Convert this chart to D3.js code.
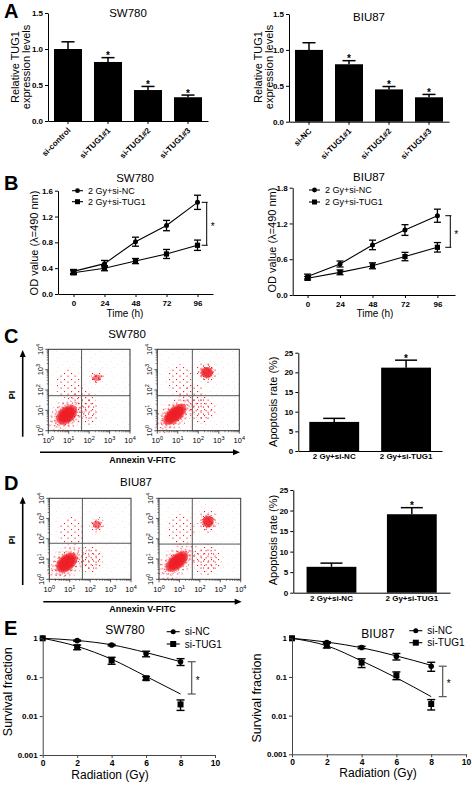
<!DOCTYPE html>
<html><head><meta charset="utf-8">
<script src="https://cdn.jsdelivr.net/npm/d3@7"></script>
<style>body{margin:0;background:#fff}svg{display:block}</style>
</head><body><svg id="c" width="472" height="786"></svg>
<script>
// ---------------- DATA ----------------
const aCatsSW = ["si-control","si-TUG1#1","si-TUG1#2","si-TUG1#3"];
const aValsSW = [1.0,0.82,0.43,0.33];
const aErrSW  = [0.10,0.06,0.05,0.03];
const aCatsBIU = ["si-NC","si-TUG1#1","si-TUG1#2","si-TUG1#3"];
const aValsBIU = [1.0,0.80,0.45,0.34];
const aErrBIU  = [0.10,0.05,0.04,0.04];
const aTicks = [0,0.5,1.0,1.5];

const bTime = [0,24,48,72,96];
const bSW_NC = [0.35,0.47,0.81,1.06,1.42];
const bSW_NCerr = [0.03,0.05,0.07,0.08,0.11];
const bSW_TUG = [0.33,0.40,0.51,0.62,0.755];
const bSW_TUGerr = [0.03,0.04,0.04,0.07,0.08];
const bBIU_NC = [0.31,0.52,0.84,1.09,1.33];
const bBIU_NCerr = [0.04,0.05,0.08,0.09,0.11];
const bBIU_TUG = [0.28,0.38,0.49,0.645,0.80];
const bBIU_TUGerr = [0.03,0.04,0.05,0.07,0.08];
const bTicksSW = [0,0.4,0.8,1.2,1.6];
const bTicksBIU = [0,0.6,1.2,1.8];
const bLegend = ["2 Gy+si-NC","2 Gy+si-TUG1"];

const cdCats = ["2 Gy+si-NC","2 Gy+si-TUG1"];
const cVals = [7.4,21.2];
const cErr = [0.9,1.9];
const dVals = [6.3,19.1];
const dErr = [0.9,1.6];
const cdTicks = [0,5,10,15,20,25];

// flow cytometry populations: [log Annexin, log PI, rx, ry, rotation, core density, halo density]
const flowSW_NC = [[0.9,0.78,0.62,0.42,-40,1,1],[2.38,2.6,0.22,0.18,0,0.6,1],[1.0,2.3,0.5,0.55,0,0,0.4],[1.95,1.0,0.4,0.55,0,0,0.6],[1.6,1.7,0.4,0.4,0,0,0.3]];
const flowSW_TUG = [[0.85,0.8,0.72,0.38,-40,1,1],[2.42,2.86,0.32,0.3,0,0.9,1],[1.1,2.5,0.5,0.6,0,0,0.4],[2.2,1.05,0.5,0.55,0,0,0.6],[1.7,1.8,0.45,0.4,0,0,0.3]];
const flowBIU_NC = [[0.85,0.82,0.64,0.42,-40,1,1],[2.33,2.7,0.22,0.22,0,0.6,1],[1.1,2.4,0.5,0.55,0,0,0.4],[2.05,1.0,0.45,0.55,0,0,0.6]];
const flowBIU_TUG = [[0.88,0.88,0.7,0.38,-40,1,1],[2.4,2.85,0.3,0.32,0,0.9,1],[1.1,2.45,0.5,0.6,0,0,0.4],[2.35,0.95,0.55,0.6,0,0,0.6]];
const flowGates = [[1.63,1.72],[1.71,1.72],[1.62,1.78],[1.63,1.74]];
const flowTicks = [0,1,2,3,4];

const eDose = [0,2,4,6,8];
const eSW_NC = [1,0.87,0.67,0.40,0.25];
const eSW_NCerr = [0,0.03,0.03,0.065,0.05];
const eSW_TUG = [1,0.59,0.27,0.094,0.02];
const eSW_TUGerr = [0,0.08,0.055,0.01,0.006];
const eSW_NCfit = [1,0.88,0.68,0.43,0.25];
const eSW_TUGfit = [1,0.62,0.29,0.105,0.037];
const eBIU_NC = [1,0.78,0.58,0.34,0.19];
const eBIU_NCerr = [0,0.04,0.04,0.065,0.05];
const eBIU_TUG = [1,0.66,0.235,0.11,0.02];
const eBIU_TUGerr = [0,0.1,0.06,0.025,0.006];
const eBIU_NCfit = [1,0.80,0.57,0.35,0.20];
const eBIU_TUGfit = [1,0.64,0.26,0.095,0.031];
const eXTicks = [0,2,4,6,8,10];
const eYTicks = [1,0.1,0.01,0.001];
const eLegend = ["si-NC","si-TUG1"];

// ---------------- HELPERS ----------------
const FONT = '"Liberation Sans", Arial, Helvetica, sans-serif';
const RED = "#ee1c24";
const svg = d3.select("#c");
svg.append("rect").attr("width",472).attr("height",786).attr("fill","#fff");
const defs = svg.append("defs");

function T(x,y,s,o={}) {
  const t = svg.append("text").attr("x",x).attr("y",y).text(s)
    .attr("font-family",FONT).attr("font-size",o.size||11)
    .attr("font-weight",o.weight||"normal").attr("text-anchor",o.anchor||"middle")
    .attr("fill",o.fill||"#000");
  if (o.rot) t.attr("transform",`rotate(${o.rot},${x},${y})`);
  return t;
}
function styleAxis(g,size,color) {
  g.attr("font-family",FONT).attr("font-size",size).attr("font-weight","bold");
  g.select(".domain").attr("stroke",color||"#000").attr("stroke-width",1);
  g.selectAll(".tick line").attr("stroke",color||"#000");
  g.selectAll(".tick text").attr("fill","#000");
}
function line(x1,y1,x2,y2,c,w) {
  svg.append("line").attr("x1",x1).attr("y1",y1).attr("x2",x2).attr("y2",y2)
    .attr("stroke",c||"#000").attr("stroke-width",w||1);
}

// ---------------- A: bar charts ----------------
function barChart(o) {
  const x = d3.scaleBand().domain(o.cats).range([o.x0,o.x1]).paddingInner(o.pi).paddingOuter(o.po);
  const y = d3.scaleLinear().domain([0,o.yMax]).range([o.yBase,o.yTop]);
  svg.append("g").selectAll("rect").data(o.vals).join("rect")
    .attr("x",(d,i)=>x(o.cats[i])).attr("width",x.bandwidth())
    .attr("y",d=>y(d)).attr("height",d=>o.yBase-y(d)).attr("fill","#000");
  o.vals.forEach((v,i)=>{
    const cx = x(o.cats[i])+x.bandwidth()/2;
    line(cx,y(v),cx,y(v+o.errs[i]),"#000",1.5);
    line(cx-o.cap/2,y(v+o.errs[i]),cx+o.cap/2,y(v+o.errs[i]),"#000",1.5);
    if (o.stars[i]) T(cx,y(v+o.errs[i])+1.5,"*",{size:10,weight:"bold"});
  });
  const gy = svg.append("g").attr("transform",`translate(${o.x0},0)`)
    .call(d3.axisLeft(y).tickValues(o.ticks).tickFormat(o.fmt).tickSize(3).tickPadding(2).tickSizeOuter(0));
  styleAxis(gy,8);
  const gx = svg.append("g").attr("transform",`translate(0,${o.yBase})`)
    .call(d3.axisBottom(x).tickSize(o.rotLabels?3:0).tickSizeOuter(0).tickFormat(""));
  styleAxis(gx,8);
  o.cats.forEach(c=>{
    const cx = x(c)+x.bandwidth()/2;
    if (o.rotLabels) T(cx+3,o.yBase+10,c,{size:8,weight:"bold",anchor:"end",rot:-45});
    else T(cx,o.labelY,c,{size:8,weight:"bold"});
  });
}

barChart({cats:aCatsSW,vals:aValsSW,errs:aErrSW,x0:48,x1:208,yBase:121,yTop:13,yMax:1.5,
  ticks:aTicks,fmt:d3.format(".1f"),pi:0.3,po:0.15,cap:13,rotLabels:true,stars:[0,1,1,1]});
barChart({cats:aCatsBIU,vals:aValsBIU,errs:aErrBIU,x0:289,x1:449,yBase:121.7,yTop:14,yMax:1.5,
  ticks:aTicks,fmt:d3.format(".1f"),pi:0.3,po:0.15,cap:13,rotLabels:true,stars:[0,1,1,1]});
T(128,17,"SW780",{size:11.5});
T(369,21,"BIU87",{size:11.5});
T(19,67,"Relative TUG1",{size:11,rot:-90});
T(30,67,"expression levels",{size:11,rot:-90});
T(262,67,"Relative TUG1",{size:11,rot:-90});
T(273,67,"expression levels",{size:11,rot:-90});

// ---------------- B: line charts ----------------
function lineChart(o) {
  const x = d3.scaleLinear().domain(o.xd).range([o.x0,o.x1]);
  const y = d3.scaleLinear().domain([0,o.yMax]).range([o.yBase,o.yTop]);
  const ln = d3.line().x((d,i)=>x(bTime[i])).y(d=>y(d));
  [[o.tug,o.tugE,"sq"],[o.nc,o.ncE,"ci"]].forEach(([vals,errs,m])=>{
    svg.append("path").attr("d",ln(vals)).attr("fill","none").attr("stroke","#000").attr("stroke-width",1.1);
    vals.forEach((v,i)=>{
      const cx = x(bTime[i]);
      line(cx,y(v-errs[i]),cx,y(v+errs[i]),"#000",1.3);
      line(cx-3.5,y(v-errs[i]),cx+3.5,y(v-errs[i]),"#000",1.3);
      line(cx-3.5,y(v+errs[i]),cx+3.5,y(v+errs[i]),"#000",1.3);
      if (m==="sq") svg.append("rect").attr("x",cx-2.6).attr("y",y(v)-2.6).attr("width",5.2).attr("height",5.2);
      else svg.append("circle").attr("cx",cx).attr("cy",y(v)).attr("r",2.5);
    });
  });
  const gy = svg.append("g").attr("transform",`translate(${o.x0},0)`)
    .call(d3.axisLeft(y).tickValues(o.ticks).tickFormat(d3.format(".1f")).tickSize(3).tickPadding(2).tickSizeOuter(0));
  styleAxis(gy,8);
  const gx = svg.append("g").attr("transform",`translate(0,${o.yBase})`)
    .call(d3.axisBottom(x).tickValues(bTime).tickSize(3).tickPadding(3).tickSizeOuter(0));
  styleAxis(gx,8);
  const bx = o.bx, yt = y(o.nc[4]), yb = y(o.tug[4]);
  line(bx,yt,bx,yb,"#000",1);
  line(bx-5,yt,bx+1,yt,"#000",1);
  line(bx-5,yb,bx+1,yb,"#000",1);
  T(bx+6,(yt+yb)/2+6,"*",{size:10});
  o.leg.forEach((s,i)=>{
    const ly = o.legY[i];
    line(o.legX,ly,o.legX+11,ly,"#000",1.1);
    if (i===0) svg.append("circle").attr("cx",o.legX+5.5).attr("cy",ly).attr("r",2.4);
    else svg.append("rect").attr("x",o.legX+3).attr("y",ly-2.5).attr("width",5).attr("height",5);
    T(o.legX+16,ly+3.3,s,{size:9,anchor:"start"});
  });
}
lineChart({xd:[-12,108],x0:58,x1:213,yBase:294,yTop:190.7,yMax:1.6,ticks:bTicksSW,
  nc:bSW_NC,ncE:bSW_NCerr,tug:bSW_TUG,tugE:bSW_TUGerr,bx:206.7,leg:bLegend,legX:72,legY:[190.7,201.7]});
lineChart({xd:[-11,109],x0:292.7,x1:455,yBase:295,yTop:187.7,yMax:1.8,ticks:bTicksBIU,
  nc:bBIU_NC,ncE:bBIU_NCerr,tug:bBIU_TUG,tugE:bBIU_TUGerr,bx:450.3,leg:bLegend,legX:309,legY:[190,202]});
T(135,182,"SW780",{size:11.5});
T(369,180.7,"BIU87",{size:11.5});
T(38,243,"OD value (λ=490 nm)",{size:11,rot:-90});
T(276,240,"OD value (λ=490 nm)",{size:11,rot:-90});
T(125,317,"Time (h)",{size:10});
T(375,317,"Time (h)",{size:10});

// ---------------- C/D: flow cytometry ----------------
function mkPat(id,w,h,pts,col,sz) {
  const p = defs.append("pattern").attr("id",id).attr("patternUnits","userSpaceOnUse").attr("width",w).attr("height",h);
  pts.forEach(q=>p.append("rect").attr("x",q[0]).attr("y",q[1]).attr("width",sz).attr("height",sz).attr("fill",col));
}
mkPat("p1",7,6,[[1,1],[4.5,3.6]],RED,1.1);
mkPat("p2",5,7,[[3,0.5],[0.6,4.2]],RED,1.1);
mkPat("p3",6,5,[[2,2.4],[5,1],[3.8,4.2]],RED,1.1);
mkPat("faint",11,10,[[1,1],[7,4],[3,7]],"#f9d0d0",0.8);
const rg = defs.append("radialGradient").attr("id","rg");
[[0,1],[0.65,0.97],[0.88,0.65],[1,0]].forEach(s=>rg.append("stop").attr("offset",s[0]).attr("stop-color",RED).attr("stop-opacity",s[1]));

function flow(x0,x1,yT,yB,gate,blobs) {
  const sx = d3.scaleLinear().domain([0,4]).range([x0,x1]);
  const sy = d3.scaleLinear().domain([0,4]).range([yB,yT]);
  const kx = sx(1)-sx(0), ky = sy(0)-sy(1);
  svg.append("rect").attr("x",x0).attr("y",yT).attr("width",x1-x0).attr("height",yB-yT).attr("fill","url(#faint)");
  const ell = (b,s,fill,op) => svg.append("ellipse").attr("cx",sx(b[0])).attr("cy",sy(b[1]))
      .attr("rx",b[2]*kx*s).attr("ry",b[3]*ky*s)
      .attr("transform",`rotate(${b[4]},${sx(b[0])},${sy(b[1])})`).attr("fill",fill).attr("opacity",op);
  blobs.forEach(b=>{
    ell(b,b[5]>0?1.75:1.3,"url(#p1)",1);
    if (b[6]>=0.5) ell(b,b[5]>0?1.4:0.95,"url(#p2)",1);
    if (b[5]>0) ell(b,1.15,"url(#p3)",1);
  });
  blobs.filter(b=>b[5]>0).forEach(b=>ell(b,1,"url(#rg)",b[5]));
  line(sx(gate[0]),yT,sx(gate[0]),yB,"#555",1);
  line(x0,sy(gate[1]),x1,sy(gate[1]),"#555",1);
  svg.append("rect").attr("x",x0).attr("y",yT).attr("width",x1-x0).attr("height",yB-yT)
    .attr("fill","none").attr("stroke","#333").attr("stroke-width",1);
  flowTicks.forEach(t=>{
    line(sx(t),yB,sx(t),yB+3,"#333",0.8);
    line(x0,sy(t),x0-3,sy(t),"#333",0.8);
    if (t<4) for (let k=2;k<10;k++) {
      const l = t+Math.log10(k);
      line(sx(l),yB,sx(l),yB+1.6,"#333",0.6);
      line(x0,sy(l),x0-1.6,sy(l),"#333",0.6);
    }
    const tx = svg.append("text").attr("x",sx(t)).attr("y",yB+12.5).attr("text-anchor","middle")
      .attr("font-family",FONT).attr("font-size",7.5);
    tx.append("tspan").text("10");
    tx.append("tspan").text(t).attr("font-size",5.5).attr("dy",-3);
    const ty = svg.append("text").attr("x",x0-5.5).attr("y",sy(t)).attr("text-anchor","middle")
      .attr("font-family",FONT).attr("font-size",7.5).attr("transform",`rotate(-90,${x0-5.5},${sy(t)})`);
    ty.append("tspan").text("10");
    ty.append("tspan").text(t).attr("font-size",5.5).attr("dy",-3);
  });
}
flow(48.3,130,349.3,430.7,flowGates[0],flowSW_NC);
flow(157.3,239.3,349.3,430.7,flowGates[1],flowSW_TUG);
flow(49.3,131,498.3,579.3,flowGates[2],flowBIU_NC);
flow(159,240.7,498.3,579.3,flowGates[3],flowBIU_TUG);

function arrows(vx,vTop,vBot,hy,hL,hR,piY,labY) {
  line(vx,vBot,vx,vTop+6,"#000",1.6);
  svg.append("path").attr("d",`M${vx-3},${vTop+7}L${vx},${vTop}L${vx+3},${vTop+7}Z`).attr("fill","#000");
  line(hL,hy,hR-6,hy,"#000",1.6);
  svg.append("path").attr("d",`M${hR-7},${hy-3}L${hR},${hy}L${hR-7},${hy+3}Z`).attr("fill","#000");
  T(15,piY,"PI",{size:9,weight:"bold",rot:-90});
  T(142.5,labY,"Annexin V-FITC",{size:9,weight:"bold"});
}
arrows(22.7,350,436.7,452.3,40,240,395,462.5);
arrows(22.7,496.7,585,601.7,43.3,241.7,540,611.7);
T(127,338,"SW780",{size:11.5});
T(136,486,"BIU87",{size:11.5});

barChart({cats:cdCats,vals:cVals,errs:cErr,x0:298.3,x1:442,yBase:451,yTop:352.7,yMax:25,
  ticks:cdTicks,fmt:d3.format("d"),pi:0.306,po:0.153,cap:22,rotLabels:false,labelY:459,stars:[0,1]});
barChart({cats:cdCats,vals:dVals,errs:dErr,x0:293.3,x1:450,yBase:592.7,yTop:490,yMax:25,
  ticks:cdTicks,fmt:d3.format("d"),pi:0.38,po:0.165,cap:22,rotLabels:false,labelY:601,stars:[0,1]});
T(277,401.7,"Apoptosis rate (%)",{size:11,rot:-90});
T(277,540,"Apoptosis rate (%)",{size:11,rot:-90});

// ---------------- E: survival ----------------
function survival(o) {
  const x = d3.scaleLinear().domain([0,10]).range([o.x0,o.x1]);
  const y = d3.scaleLog().domain([0.001,1]).range([o.yBase,o.yTop]);
  const ln = d3.line().x((d,i)=>x(eDose[i])).y(d=>y(d)).curve(d3.curveMonotoneX);
  [o.ncFit,o.tugFit].forEach(f=>svg.append("path").attr("d",ln(f)).attr("fill","none").attr("stroke","#000").attr("stroke-width",1));
  [[o.nc,o.ncE,"ci"],[o.tug,o.tugE,"sq"]].forEach(([vals,errs,m])=>{
    vals.forEach((v,i)=>{
      const cx = x(eDose[i]);
      if (errs[i]>0) {
        const y1 = y(v-errs[i]), y2 = y(v+errs[i]);
        line(cx,y1,cx,y2,"#000",1.4);
        line(cx-4,y1,cx+4,y1,"#000",1.4);
        line(cx-4,y2,cx+4,y2,"#000",1.4);
      }
      if (m==="sq") svg.append("rect").attr("x",cx-3).attr("y",y(v)-3).attr("width",6).attr("height",6);
      else svg.append("circle").attr("cx",cx).attr("cy",y(v)).attr("r",2.8);
    });
  });
  const gy = svg.append("g").attr("transform",`translate(${o.x0},0)`)
    .call(d3.axisLeft(y).tickValues(eYTicks).tickFormat(d=>String(d)).tickSize(3).tickPadding(2).tickSizeOuter(0));
  styleAxis(gy,8,"#444");
  const gx = svg.append("g").attr("transform",`translate(0,${o.yBase})`)
    .call(d3.axisBottom(x).tickValues(eXTicks).tickSize(3).tickPadding(2).tickSizeOuter(0));
  styleAxis(gx,8.5,"#444");
  const yt = y(o.nc[4]), yb = y(o.tugFit[4]);
  line(o.bx,yt,o.bx,yb,"#555",1.2);
  line(o.bx-4,yt,o.bx+4,yt,"#555",1.2);
  line(o.bx-4,yb,o.bx+4,yb,"#555",1.2);
  T(o.bx+6,(yt+yb)/2+6,"*",{size:10});
  eLegend.forEach((s,i)=>{
    const ly = o.legY[i];
    line(o.legX,ly,o.legX+13,ly,"#000",1.1);
    if (i===0) svg.append("circle").attr("cx",o.legX+6.5).attr("cy",ly).attr("r",2.5);
    else svg.append("rect").attr("x",o.legX+3.5).attr("y",ly-3).attr("width",6).attr("height",6);
    T(o.legX+18,ly+3.5,s,{size:10,anchor:"start"});
  });
}
survival({x0:42.7,x1:215,yBase:755,yTop:638.3,nc:eSW_NC,ncE:eSW_NCerr,tug:eSW_TUG,tugE:eSW_TUGerr,
  ncFit:eSW_NCfit,tugFit:eSW_TUGfit,bx:191.7,legX:166.7,legY:[631.7,644]});
survival({x0:292,x1:466,yBase:754.3,yTop:638.3,nc:eBIU_NC,ncE:eBIU_NCerr,tug:eBIU_TUG,tugE:eBIU_TUGerr,
  ncFit:eBIU_NCfit,tugFit:eBIU_TUGfit,bx:442.7,legX:409.3,legY:[630.7,642.7]});
T(125,634,"SW780",{size:12});
T(378,638,"BIU87",{size:12});
T(12,691.7,"Survival fraction",{size:12.5,rot:-90});
T(261,698,"Survival fraction",{size:12.5,rot:-90});
T(110,779,"Radiation (Gy)",{size:12});
T(378,777,"Radiation (Gy)",{size:12});

[["A",4,18],["B",4,190],["C",4,343],["D",4,490],["E",4,635]].forEach(p=>T(p[1],p[2],p[0],{size:20,weight:"bold",anchor:"start"}));
</script></body></html>
